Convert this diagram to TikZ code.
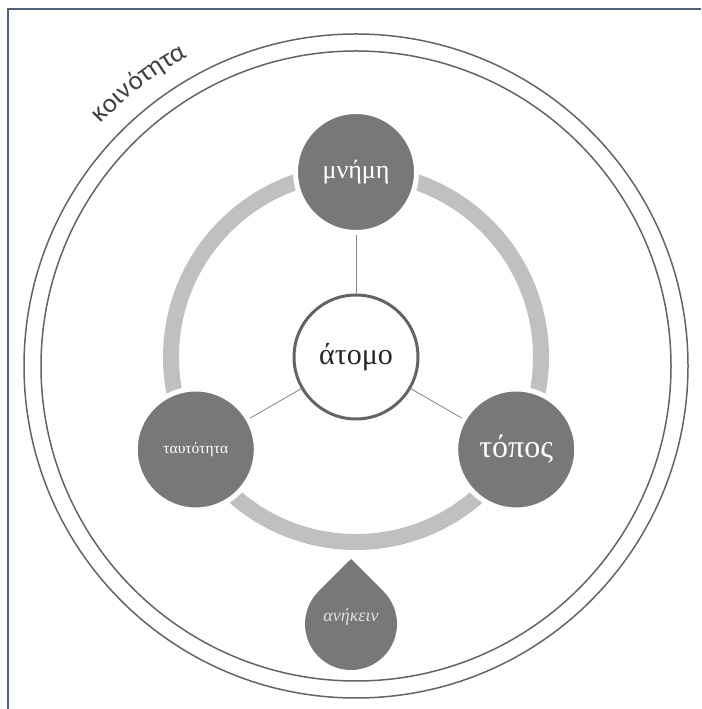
\documentclass[tikz,border=0pt]{standalone}
\usepackage{fontspec}
\setmainfont{Liberation Serif}
\newfontfamily\sansgr{Carlito}
\usepackage{tikz}
\usetikzlibrary{calc, decorations.text}
\usepackage{xcolor}
\definecolor{grisoscuro}{RGB}{120,120,120}
\definecolor{grisclaro}{RGB}{192,192,192}
\definecolor{grisborde}{RGB}{100,100,100}
\definecolor{marco}{RGB}{78,98,128}

\begin{document}
\begin{tikzpicture}[
		x=1pt, y=1pt, % 1 unidad = 1 pixel de la referencia
		% --- Estilos ---
		circulo/.style={
			circle,
			fill=grisoscuro,
			draw=white,
			line width=5pt,
			minimum size=121pt,
			inner sep=0pt,
			text=white
		},
		nucleo/.style={
			circle,
			fill=white,
			draw=grisborde,
			line width=3pt,
			minimum size=124pt,
			inner sep=0pt,
			text=black!85,
			font=\fontsize{30}{30}\selectfont
		},
		anillo/.style={
			draw=grisclaro,
			line width=16pt
		},
		borde/.style={
			draw=grisborde,
			line width=1.5pt
		},
		enlace/.style={
			draw=grisborde!80,
			line width=0.8pt
		}
		]
		\useasboundingbox (0,0) rectangle (701,709);
		
		% 1. Marco: linea superior e izquierda
		\coordinate (esquina) at (8,700);
		\draw[marco, line width=1.5pt] (701,700) -- (esquina) -- (8,0);
		
		% 2. Comunidad: doble circulo exterior con su nombre curvado
		\coordinate (centro_ext) at (356,343);
		\draw[borde] (centro_ext) circle[radius=332];
		\draw[borde] (centro_ext) circle[radius=315];
		\path[decorate, decoration={text along path, text align=center,
			text={|\sansgr\fontsize{27}{27}\selectfont\color{black!75}|κοινότητα}}]
		($(centro_ext)+(148:352)$) arc[start angle=148, end angle=107, radius=352];
		
		% 3. Anillo gris claro y nodos sobre el
		\coordinate (centro) at (356,352);
		\draw[anillo] (centro) circle[radius=185];
		
		\node[nucleo] (atomo) at (centro) {άτομο};
		\node[circulo, font=\fontsize{26}{26}\selectfont] (mnimi) at ($(centro)+(90:185)$) {μνήμη};
		\node[circulo, font=\fontsize{15.5}{15.5}\selectfont] (taftotita) at ($(centro)+(210:185)$) {ταυτότητα};
		\node[circulo, font=\fontsize{32}{32}\selectfont] (topos) at ($(centro)+(330:185)$) {τόπος};
		
		% 4. Lineas del atomo a cada circulo
		\draw[enlace] (atomo) -- (mnimi);
		\draw[enlace] (atomo) -- (taftotita);
		\draw[enlace] (atomo) -- (topos);
		
		% 5. Gota de abajo
		\coordinate (gota) at (351,85);
		\fill[grisoscuro] ($(gota)+(135:46)$) arc[start angle=135, end angle=405, radius=46]
		-- ($(gota)+(0,65)$) -- cycle;
		\node[text=white!88!black, font=\itshape\fontsize{18}{18}\selectfont] (anikein) at ($(gota)+(0,7)$) {ανήκειν};
		
	\end{tikzpicture}
\end{document}
